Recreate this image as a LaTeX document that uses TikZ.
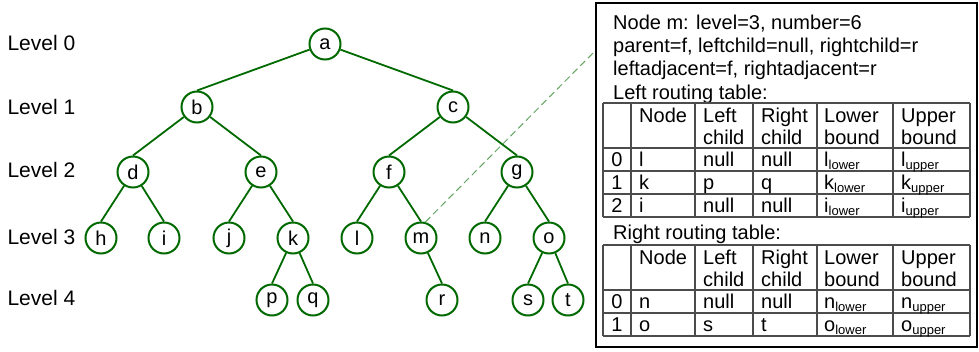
\documentclass[tikz,border=0pt]{standalone}
\usepackage{fontspec}
\setmainfont{Liberation Sans}
\definecolor{treegreen}{RGB}{0,105,0}
\definecolor{callgreen}{RGB}{100,165,100}
\newcommand{\bnd}[2]{#1\raisebox{-3.5pt}{\fontsize{13}{13}\selectfont #2}}

\begin{document}
\begin{tikzpicture}[x=1pt,y=-1pt,
   every node/.style={font=\fontsize{20}{23}\selectfont},
   vertex/.style={draw=treegreen,circle,line width=2pt,minimum size=31pt,inner sep=0pt},
   level/.style={anchor=west,font=\fontsize{21}{24}\selectfont},
   edge/.style={draw=treegreen,line width=1.8pt},
   callout/.style={draw=callgreen,line width=1pt,dash pattern=on 7pt off 4pt},
   cell/.style={anchor=base west,inner sep=0pt},
   idx/.style={anchor=base,inner sep=0pt},
   grid/.style={draw=black!70,line width=1.1pt}]
\useasboundingbox (0,0) rectangle (979,351);
\foreach \l/\y in {0/43,1/107,2/170,3/237,4/298}
  \node[level] (level\l) at (4,\y) {Level \l};
\node[vertex] (a) at (325,44) {a};
\node[vertex] (b) at (197,107) {b};
\node[vertex] (c) at (453,107) {c};
\node[vertex] (d) at (133,172) {d};
\node[vertex] (e) at (261,172) {e};
\node[vertex] (f) at (389,172) {f};
\node[vertex] (g) at (517,172) {g};
\node[vertex] (h) at (101,238) {h};
\node[vertex] (i) at (164,238) {i};
\node[vertex] (j) at (229,238) {j};
\node[vertex] (k) at (293,238) {k};
\node[vertex] (l) at (357,238) {l};
\node[vertex] (m) at (421,238) {m};
\node[vertex] (n) at (485,238) {n};
\node[vertex] (o) at (549,238) {o};
\node[vertex] (p) at (272,300) {p};
\node[vertex] (q) at (313,300) {q};
\node[vertex] (r) at (442,300) {r};
\node[vertex] (s) at (528,300) {s};
\node[vertex] (t) at (568,300) {t};
\foreach \u/\v in {a/b,a/c,b/d,b/e,c/f,c/g,d/h,d/i,e/j,e/k,f/l,f/m,g/n,g/o,k/p,k/q,m/r,o/s,o/t}
  \draw[edge] (\u) -- (\v.north);
\coordinate (boxin) at (596,50);
\draw[callout] (m.75) -- (boxin);
\draw[line width=1.8pt] (596,3) rectangle (977,347);
\node[cell] (info1) at (613,29) {Node m: level=3, number=6};
\node[cell] (info2) at (613,52) {parent=f, leftchild=null, rightchild=r};
\node[cell] (info3) at (613,75) {leftadjacent=f, rightadjacent=r};
\node[cell] (lefttitle) at (613,99) {Left routing table:};
\node[cell] (righttitle) at (613,239) {Right routing table:};
\foreach \y in {103,148,171,194,217} \draw[grid] (603,\y) -- (970,\y);
\foreach \x in {603,631,695,753,817,893,970} \draw[grid] (\x,103) -- (\x,217);
\foreach \y in {245,290,313,336} \draw[grid] (603,\y) -- (970,\y);
\foreach \x in {603,631,695,753,817,893,970} \draw[grid] (\x,245) -- (\x,336);
\foreach \x/\top/\bot [count=\c] in {639/Node/,703/Left/child,761/Right/child,824/Lower/bound,901/Upper/bound} {
  \node[cell] (lhead\c) at (\x,122) {\top};
  \node[cell] (lsub\c) at (\x,144) {\bot};
  \node[cell] (rhead\c) at (\x,264) {\top};
  \node[cell] (rsub\c) at (\x,286) {\bot};
}
\foreach \nd/\lc/\rc [count=\r from 0] in {l/null/null,k/p/q,i/null/null} {
  \node[idx] (lidx\r) at (617,166+23*\r) {\r};
  \node[cell] (lnode\r) at (639,166+23*\r) {\nd};
  \node[cell] (llc\r) at (703,166+23*\r) {\lc};
  \node[cell] (lrc\r) at (761,166+23*\r) {\rc};
  \node[cell] (llo\r) at (824,166+23*\r) {\bnd{\nd}{lower}};
  \node[cell] (lup\r) at (901,166+23*\r) {\bnd{\nd}{upper}};
}
\foreach \nd/\lc/\rc [count=\r from 0] in {n/null/null,o/s/t} {
  \node[idx] (ridx\r) at (617,308+23*\r) {\r};
  \node[cell] (rnode\r) at (639,308+23*\r) {\nd};
  \node[cell] (rlc\r) at (703,308+23*\r) {\lc};
  \node[cell] (rrc\r) at (761,308+23*\r) {\rc};
  \node[cell] (rlo\r) at (824,308+23*\r) {\bnd{\nd}{lower}};
  \node[cell] (rup\r) at (901,308+23*\r) {\bnd{\nd}{upper}};
}
\end{tikzpicture}
\end{document}
